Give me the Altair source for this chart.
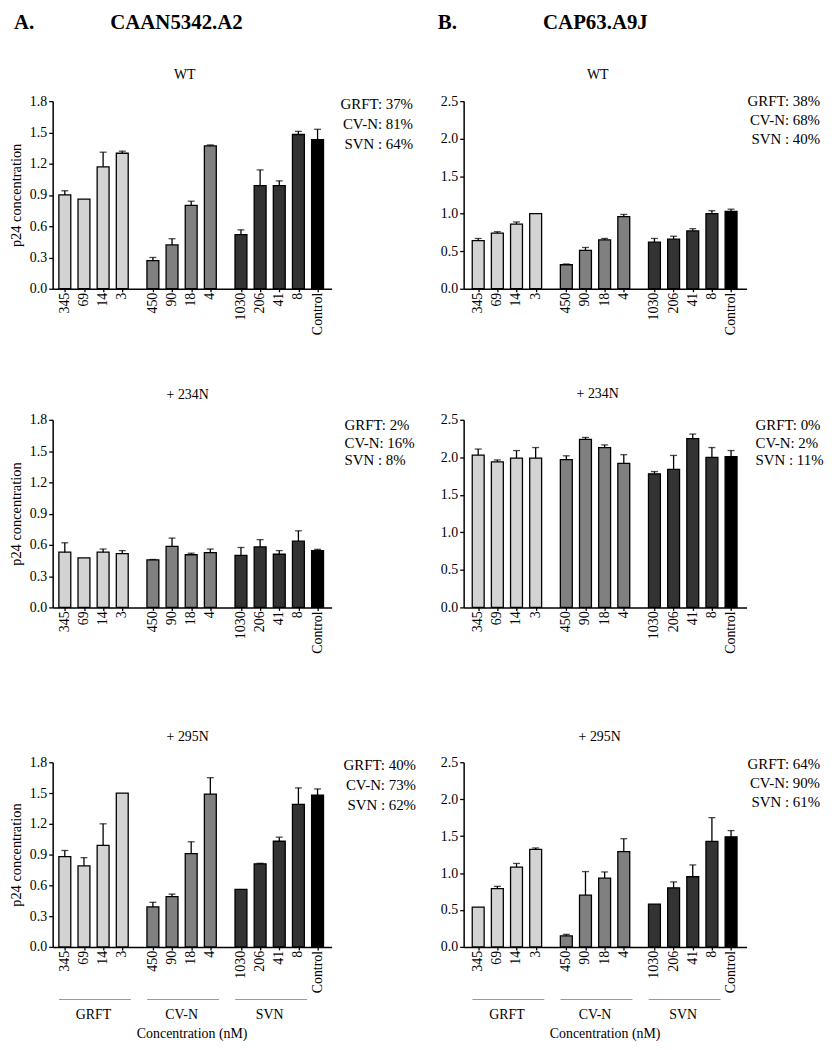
import altair as alt
import pandas as pd

FONT = "Liberation Serif"

concs = ["345", "69", "14", "3", "450", "90", "18", "4", "1030", "206", "41", "8", "Control"]
groups = ["GRFT"] * 4 + ["CV-N"] * 4 + ["SVN"] * 4 + ["Control"]
group_names = ["GRFT", "CV-N", "SVN"]
group_colors = ["#d3d3d3", "#808080", "#333333", "#000000"]

# Panel A: CAAN5342.A2
a_wt = [0.90, 0.86, 1.17, 1.30, 0.27, 0.42, 0.80, 1.37, 0.52, 0.99, 0.99, 1.48, 1.43]
a_wt_err = [0.04, 0.0, 0.14, 0.02, 0.03, 0.06, 0.04, 0.01, 0.045, 0.15, 0.045, 0.03, 0.10]
a_234 = [0.53, 0.475, 0.53, 0.515, 0.455, 0.585, 0.505, 0.525, 0.50, 0.58, 0.51, 0.635, 0.545]
a_234_err = [0.09, 0.0, 0.03, 0.03, 0.005, 0.08, 0.015, 0.035, 0.075, 0.07, 0.035, 0.10, 0.012]
a_295 = [0.88, 0.79, 0.99, 1.50, 0.39, 0.49, 0.91, 1.49, 0.56, 0.81, 1.03, 1.39, 1.48]
a_295_err = [0.06, 0.08, 0.21, 0.0, 0.045, 0.025, 0.115, 0.16, 0.0, 0.005, 0.04, 0.16, 0.06]

# Panel B: CAP63.A9J
b_wt = [0.64, 0.74, 0.86, 1.00, 0.32, 0.51, 0.65, 0.96, 0.62, 0.66, 0.77, 1.00, 1.03]
b_wt_err = [0.03, 0.02, 0.03, 0.0, 0.01, 0.04, 0.02, 0.03, 0.05, 0.04, 0.03, 0.04, 0.03]
b_234 = [2.03, 1.94, 1.99, 1.99, 1.97, 2.24, 2.13, 1.92, 1.78, 1.84, 2.25, 2.00, 2.01]
b_234_err = [0.08, 0.025, 0.10, 0.14, 0.05, 0.025, 0.035, 0.115, 0.03, 0.185, 0.06, 0.13, 0.08]
b_295 = [0.54, 0.79, 1.08, 1.32, 0.15, 0.70, 0.93, 1.29, 0.58, 0.80, 0.95, 1.43, 1.49]
b_295_err = [0.0, 0.03, 0.05, 0.02, 0.02, 0.32, 0.085, 0.175, 0.0, 0.08, 0.16, 0.32, 0.085]

notes_a_wt = ["GRFT: 37%", "CV-N: 81%", "SVN : 64%"]
notes_a_234 = ["GRFT: 2%", "CV-N: 16%", "SVN : 8%"]
notes_a_295 = ["GRFT: 40%", "CV-N: 73%", "SVN : 62%"]
notes_b_wt = ["GRFT: 38%", "CV-N: 68%", "SVN : 40%"]
notes_b_234 = ["GRFT: 0%", "CV-N: 2%", "SVN : 11%"]
notes_b_295 = ["GRFT: 64%", "CV-N: 90%", "SVN : 61%"]

# slot positions along x: one step per bar, an extra 0.6 step between treatment groups
gap_index = {"GRFT": 0, "CV-N": 1, "SVN": 2, "Control": 2}
positions = [i + 0.6 * gap_index[g] for i, g in enumerate(groups)]


def panel(vals, errs, ymax, ystep, subtitle, notes, note_align, note_x, note_y0, note_dy,
          width, xdom, height, ytitle=None, header=None, bottom=False, sub_x=136, sub_y=-25):
    df = pd.DataFrame({"pos": positions, "conc": concs, "grp": groups,
                       "val": vals, "err": errs})
    df["top"] = df["val"] + df["err"]
    base = alt.Chart(df)
    nt = int(round(ymax / ystep))
    yticks = [round(k * ystep, 2) for k in range(nt + 1)]
    xscale = alt.Scale(domain=xdom, nice=False, zero=False)
    yscale = alt.Scale(domain=[0, ymax], nice=False)
    xaxis = alt.Axis(values=positions, labels=False, ticks=True, tickSize=3,
                     title=None, grid=False)
    yaxis = alt.Axis(values=yticks, format=".1f", grid=False, tickSize=4,
                     labelFont=FONT, labelFontSize=14, labelColor="black",
                     labelOverlap=False, labelFlush=False, labelBound=False,
                     labelPadding=2,
                     title=ytitle if ytitle else None, titleFont=FONT,
                     titleFontSize=14.5, titleFontWeight="normal",
                     titleColor="black", titlePadding=6)
    xq = alt.X("pos:Q", scale=xscale, axis=xaxis)

    bars = base.mark_bar(size=12, stroke="black", strokeWidth=1.3).encode(
        x=xq,
        y=alt.Y("val:Q", scale=yscale, axis=yaxis),
        color=alt.Color("grp:N", scale=alt.Scale(domain=group_names + ["Control"],
                                                 range=group_colors), legend=None),
    )
    err_base = base.transform_filter("datum.err > 0")
    err_rule = err_base.mark_rule(color="black", strokeWidth=1.3).encode(
        x=xq, y=alt.Y("val:Q", scale=yscale, axis=yaxis), y2="top:Q")
    err_cap = err_base.mark_tick(orient="horizontal", size=7, thickness=1.3,
                                 color="black").encode(
        x=xq, y=alt.Y("top:Q", scale=yscale, axis=yaxis))
    xlabels = base.mark_text(angle=270, align="right", baseline="middle",
                             font=FONT, fontSize=14, color="black").encode(
        x=xq, y=alt.value(height + 4), text="conc:N")

    layers = [bars, err_rule, err_cap, xlabels]

    sub = alt.Chart(pd.DataFrame({"t": [subtitle]})).mark_text(
        font=FONT, fontSize=14, color="black", baseline="middle").encode(
        text="t:N", x=alt.value(sub_x), y=alt.value(sub_y))
    layers.append(sub)

    for k, n in enumerate(notes):
        layers.append(alt.Chart(pd.DataFrame({"t": [n]})).mark_text(
            font=FONT, fontSize=15, color="black", align=note_align,
            baseline="middle").encode(
            text="t:N", x=alt.value(note_x), y=alt.value(note_y0 + k * note_dy)))

    if header:
        for txt, hx in header:
            layers.append(alt.Chart(pd.DataFrame({"t": [txt]})).mark_text(
                font=FONT, fontSize=21, fontWeight="bold", color="black",
                align="left", baseline="alphabetic").encode(
                text="t:N", x=alt.value(hx), y=alt.value(-73)))

    if bottom:
        gdf = df[df["grp"].isin(group_names)].groupby("grp", sort=False)["pos"].agg(
            ["min", "max"]).reset_index()
        gdf["pos"] = gdf["min"] - 0.3
        gdf["pos2"] = gdf["max"] + 0.45
        gdf["mid"] = (gdf["min"] + gdf["max"]) / 2
        gbase = alt.Chart(gdf)
        glines = gbase.mark_rule(color="#999999", strokeWidth=1.2).encode(
            x=xq, x2="pos2:Q", y=alt.value(height + 53))
        glabels = gbase.mark_text(font=FONT, fontSize=14, color="black",
                                  baseline="middle").encode(
            x=alt.X("mid:Q", scale=xscale, axis=xaxis), y=alt.value(height + 69),
            text="grp:N")
        ctitle = alt.Chart(pd.DataFrame({"t": ["Concentration (nM)"]})).mark_text(
            font=FONT, fontSize=14, color="black", baseline="middle").encode(
            text="t:N", x=alt.value(width / 2), y=alt.value(height + 88))
        layers += [glines, glabels, ctitle]

    return alt.layer(*layers).properties(width=width, height=height)


AW, BW = 281, 285
AX = [-0.375, 13.675]
BX = [-0.5, 13.75]
H1, H2, H3 = 189, 189, 186
YT = "p24 concentration"

a1 = panel(a_wt, a_wt_err, 1.8, 0.3, "WT", notes_a_wt, "right", 363, 3, 20,
           AW, AX, H1, ytitle=YT, header=[("A.", -39), ("CAAN5342.A2", 58)], sub_x=133, sub_y=-26)
b1 = panel(b_wt, b_wt_err, 2.5, 0.5, "WT", notes_b_wt, "right", 359, 0, 19,
           BW, BX, H1, header=[("B.", -26), ("CAP63.A9J", 80)], sub_x=135, sub_y=-26)
a2 = panel(a_234, a_234_err, 1.8, 0.3, "+ 234N", notes_a_234, "left", 294, 5, 18,
           AW, AX, H2, ytitle=YT, sub_x=136, sub_y=-25)
b2 = panel(b_234, b_234_err, 2.5, 0.5, "+ 234N", notes_b_234, "left", 294, 5, 18,
           BW, BX, H2, sub_x=135, sub_y=-26)
a3 = panel(a_295, a_295_err, 1.8, 0.3, "+ 295N", notes_a_295, "right", 366, 3, 20,
           AW, AX, H3, ytitle=YT, bottom=True, sub_x=136, sub_y=-25)
b3 = panel(b_295, b_295_err, 2.5, 0.5, "+ 295N", notes_b_295, "right", 359, 2, 19,
           BW, BX, H3, bottom=True, sub_x=137, sub_y=-25)

row1 = alt.hconcat(a1, b1, spacing=133, bounds="flush")
row2 = alt.hconcat(a2, b2, spacing=133, bounds="flush")
row3 = alt.hconcat(a3, b3, spacing=133, bounds="flush")

chart = alt.vconcat(
    alt.vconcat(row1, row2, spacing=52),
    row3, spacing=77
).properties(
    padding={"left": 0, "top": 0, "right": 0, "bottom": 0}
).configure_view(stroke=None).configure_axis(
    domainColor="black", domainWidth=1.5, tickColor="black", tickWidth=1.3,
    labelFont=FONT, labelFontSize=14, labelColor="black", labelPadding=2,
)

chart.save("out.html", embed_options={"renderer": "svg", "actions": False})
